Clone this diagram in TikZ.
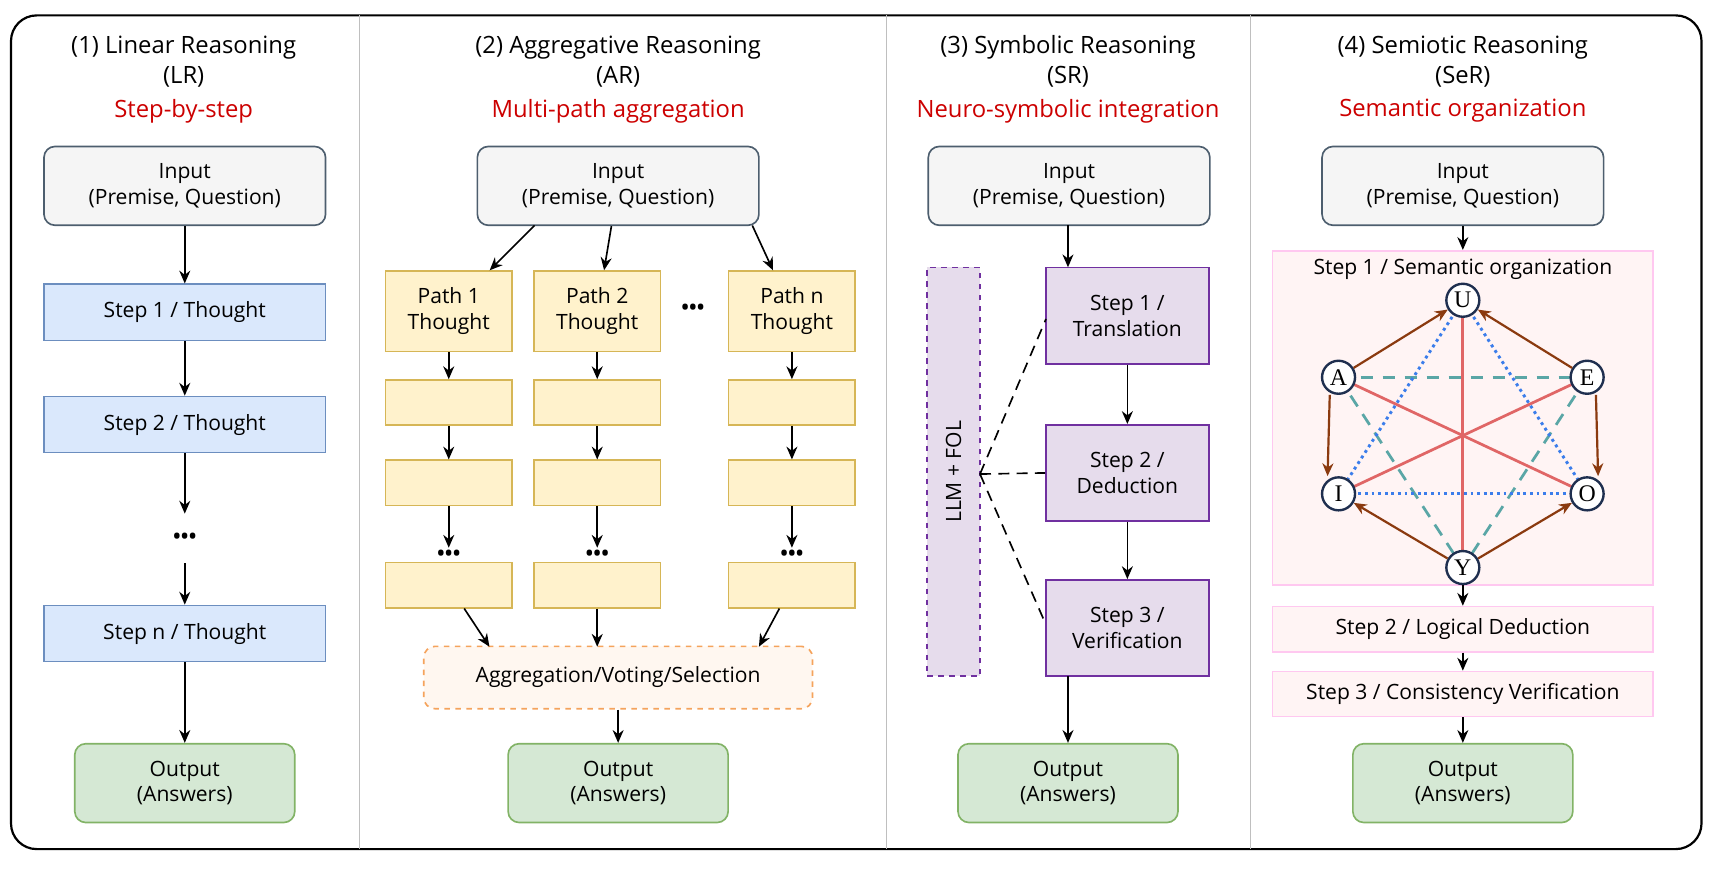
\documentclass[tikz,border=0pt]{standalone}
\usepackage{fontspec}
\setmainfont{Open Sans}
\newfontfamily\hexfont{Liberation Serif}
\usetikzlibrary{arrows.meta}
\definecolor{titlered}{HTML}{CC0000}
\definecolor{inbd}{HTML}{4D5E6E}
\definecolor{stepfill}{HTML}{DAE8FC}
\definecolor{stepbd}{HTML}{6C8EBF}
\definecolor{pathfill}{HTML}{FFF2CC}
\definecolor{pathbd}{HTML}{D6B656}
\definecolor{outfill}{HTML}{D5E8D4}
\definecolor{outbd}{HTML}{82B366}
\definecolor{symfill}{HTML}{E6DCEC}
\definecolor{symbd}{HTML}{7030A0}
\definecolor{aggbd}{HTML}{F5A35C}
\definecolor{pinkbd}{HTML}{FFC8F0}
\definecolor{pinkfill}{HTML}{FFF4F4}
\definecolor{hexbd}{HTML}{1F2F4F}
\definecolor{brownarr}{HTML}{8B3A0F}
\definecolor{redline}{HTML}{E06666}
\definecolor{tealline}{HTML}{5AA6A6}
\definecolor{blueline}{HTML}{3B7DEB}
\tikzset{
  box/.style={draw, line width=0.9pt, minimum width=#1*0.6pt, align=center, inner sep=0pt},
  inbox/.style={box=256, minimum height=43pt, fill=gray!8, draw=inbd, rounded corners=6pt},
  outbox/.style={box=200, minimum height=43pt, fill=outfill, draw=outbd, rounded corners=6pt},
  stepbox/.style={box=256, minimum height=30.6pt, fill=stepfill, draw=stepbd},
  pathbox/.style={box=115, minimum height=24.6pt, fill=pathfill, draw=pathbd},
  symbox/.style={box=148, minimum height=52.5pt, fill=symfill, draw=symbd},
  pinkbox/.style={box=346, minimum height=24.6pt, fill=pinkfill, draw=pinkbd},
  hexnode/.style={circle, draw=hexbd, line width=1.3pt, fill=white, inner sep=0pt, minimum size=18pt, font=\hexfont\fontsize{13}{13}\selectfont},
  arr/.style={-{Stealth[length=7pt,width=6pt]}, line width=0.9pt},
  harr/.style={-{Stealth[length=7pt,width=6pt]}, line width=1.2pt, draw=brownarr},
  link/.style={line width=0.9pt, dash pattern=on 6pt off 4pt},
  ttl/.style={font=\fontsize{13}{15}\selectfont},
  sub/.style={font=\fontsize{13}{15}\selectfont, text=titlered},
  dots/.style={font=\fontsize{14}{14}\selectfont, inner sep=1pt}
}
\newcommand{\bigdots}{\textbullet\hspace{-1pt}\textbullet\hspace{-1pt}\textbullet}
\begin{document}
\begin{tikzpicture}[x=0.6pt, y=-0.6pt, font=\fontsize{11.5}{14}\selectfont]
  \useasboundingbox (0,0) rectangle (1562,795);
  % frame and dividers
  \draw[line width=1.2pt, rounded corners=14pt] (10,14) rectangle (1547,772);
  \foreach \x in {327, 806, 1137}{
    \draw[gray!50, line width=0.8pt] (\x,14) -- (\x,772);
  }

  % (1) linear reasoning
  \node[ttl] at (167,43) {(1) Linear Reasoning};
  \node[ttl] at (167,70) {(LR)};
  \node[sub] at (167,101) {Step-by-step};
  \node[inbox] (lrin) at (168,169) {Input\\(Premise, Question)};
  \node[stepbox] (lrs1) at (168,284) {Step 1 / Thought};
  \node[stepbox] (lrs2) at (168,386) {Step 2 / Thought};
  \node[dots] (lrdots) at (168,490) {\bigdots};
  \node[stepbox] (lrsn) at (168,576) {Step n / Thought};
  \node[outbox] (lrout) at (168,712) {Output\\(Answers)};
  \draw[arr] (lrin) -- (lrs1);
  \draw[arr] (lrs1) -- (lrs2);
  \draw[arr] (lrs2) -- (168,467);
  \draw[arr] (168,512) -- (lrsn);
  \draw[arr] (lrsn) -- (lrout);

  % (2) aggregative reasoning
  \node[ttl] at (562,43) {(2) Aggregative Reasoning};
  \node[ttl] at (562,70) {(AR)};
  \node[sub] at (562,101) {Multi-path aggregation};
  \node[inbox] (arin) at (562,169) {Input\\(Premise, Question)};
  \foreach \c/\x/\t in {a/408/1, b/543/2, c/720/n}{
    \node[pathbox, minimum height=43.8pt] (p\c0) at (\x,283) {Path \t\\Thought};
    \node[pathbox] (p\c1) at (\x,366) {};
    \node[pathbox] (p\c2) at (\x,439) {};
    \node[pathbox] (p\c3) at (\x,532) {};
    \node[dots] at (\x,506) {\bigdots};
    \draw[arr] (p\c0) -- (p\c1);
    \draw[arr] (p\c1) -- (p\c2);
    \draw[arr] (p\c2) -- (\x,498);
  }
  \node[dots] at (630,282) {\bigdots};
  \node[draw=aggbd, dashed, fill=orange!6, line width=0.9pt, rounded corners=6pt,
        minimum width=212pt, minimum height=34pt] (agg) at (562,616) {Aggregation/Voting/Selection};
  \node[outbox] (arout) at (562,712) {Output\\(Answers)};
  \draw[arr] (486,205) -- (pa0);
  \draw[arr] (arin) -- (pb0);
  \draw[arr] (684,205) -- (pc0);
  \draw[arr] (pa3) -- (445,588);
  \draw[arr] (pb3) -- (543,588);
  \draw[arr] (pc3) -- (690,588);
  \draw[arr] (agg) -- (arout);

  % (3) symbolic reasoning
  \node[ttl] at (971,43) {(3) Symbolic Reasoning};
  \node[ttl] at (971,70) {(SR)};
  \node[sub] at (971,101) {Neuro-symbolic integration};
  \node[inbox] (srin) at (972,169) {Input\\(Premise, Question)};
  \node[symbox] (srs1) at (1025,287) {Step 1 /\\Translation};
  \node[symbox] (srs2) at (1025,430) {Step 2 /\\Deduction};
  \node[symbox] (srs3) at (1025,571) {Step 3 /\\Verification};
  \node[outbox] (srout) at (971,712) {Output\\(Answers)};
  \node[draw=symbd, dashed, fill=symfill, line width=0.9pt, minimum width=28.8pt,
        minimum height=223pt] (llm) at (867,429) {};
  \node[rotate=90] at (llm) {LLM + FOL};
  \coordinate (llmtip) at (891,431);
  \draw[arr] (971,205) -- (971,243);
  \draw[arr] (srs1) -- (srs2);
  \draw[arr] (srs2) -- (srs3);
  \draw[arr] (971,615) -- (srout);
  \draw[link] (llmtip) -- (951,290);
  \draw[link] (llmtip) -- (srs2.west);
  \draw[link] (llmtip) -- (951,568);

  % (4) semiotic reasoning
  \node[ttl] at (1330,43) {(4) Semiotic Reasoning};
  \node[ttl] at (1330,70) {(SeR)};
  \node[sub] at (1330,101) {Semantic organization};
  \node[inbox] (sein) at (1330,169) {Input\\(Premise, Question)};
  \node[pinkbox, minimum height=182.4pt] (sq) at (1330,380) {};
  \node at (1330,245) {Step 1 / Semantic organization};
  \node[pinkbox] (ses2) at (1330,572) {Step 2 / Logical Deduction};
  \node[pinkbox] (ses3) at (1330,631) {Step 3 / Consistency Verification};
  \node[outbox] (seout) at (1330,712) {Output\\(Answers)};
  % hexagon: edges first, letters on top
  \coordinate (cU) at (1330,273);
  \coordinate (cA) at (1217,343);
  \coordinate (cE) at (1443,343);
  \coordinate (cI) at (1217,449);
  \coordinate (cO) at (1443,449);
  \coordinate (cY) at (1330,516);
  \foreach \a/\b in {U/Y, A/O, E/I}{
    \draw[redline, line width=1.5pt] (c\a) -- (c\b);
  }
  \foreach \a/\b in {A/E, A/Y, E/Y}{
    \draw[tealline, dash pattern=on 7pt off 5pt, line width=1.5pt] (c\a) -- (c\b);
  }
  \foreach \a/\b in {U/I, U/O, I/O}{
    \draw[blueline, dotted, line width=1.6pt] (c\a) -- (c\b);
  }
  \foreach \n in {U, A, E, I, O, Y}{
    \node[hexnode] (\n) at (c\n) {\n};
  }
  \foreach \a/\b in {A/U, E/U, Y/I, Y/O}{
    \draw[harr] (\a) -- (\b);
  }
  \draw[harr] ([xshift=-3pt]A.south) ++(-3,0) -- ([xshift=-6pt]I.north);
  \draw[harr] ([xshift=3pt]E.south) ++(3,0) -- ([xshift=6pt]O.north);
  \draw[arr] (sein) -- (sq);
  \draw[arr] (Y) -- (ses2);
  \draw[arr] (ses2) -- (ses3);
  \draw[arr] (ses3) -- (seout);
\end{tikzpicture}
\end{document}
